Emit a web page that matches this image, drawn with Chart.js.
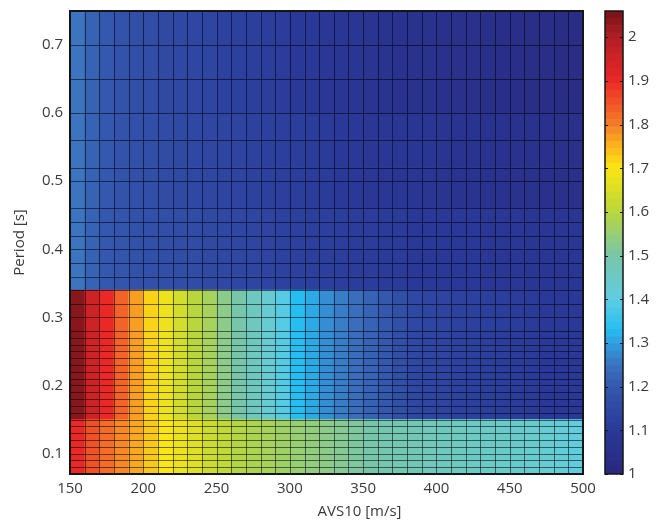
<!DOCTYPE html>
<html>
<head>
<meta charset="utf-8">
<title>Amplification map</title>
<script src="https://cdn.jsdelivr.net/npm/chart.js@4.4.1/dist/chart.umd.min.js"></script>
<style>
  html, body { margin: 0; padding: 0; background: #fff; }
  #wrap { position: relative; width: 660px; height: 522px; }
  #main { position: absolute; left: 0; top: 0; }
  #bar { position: absolute; left: 595px; top: 0; }
</style>
</head>
<body>
<div id="wrap">
  <canvas id="main" width="600" height="522" style="width:600px;height:522px"></canvas>
  <canvas id="bar" width="65" height="522" style="width:65px;height:522px"></canvas>
</div>
<script>
// AVS10 columns (left edge of each cell, m/s)
const avsCols = [150,160,170,180,190,200,210,220,230,240,250,260,270,280,290,300,310,320,330,340,350,360,370,380,390,400,410,420,430,440,450,460,470,480,490];

// period bands: row edges and the value read for each column
const lowEdges = [0.07,0.08,0.09,0.10,0.11,0.12,0.13,0.14,0.15];
const lowVals = [1.90,1.85,1.82,1.79,1.76,1.73,1.70,1.68,1.66,1.63,1.61,1.59,1.58,1.57,1.56,1.55,1.54,1.53,1.52,1.51,1.50,1.49,1.485,1.48,1.47,1.465,1.46,1.455,1.45,1.445,1.44,1.435,1.43,1.42,1.41];

const midEdges = [0.15,0.16,0.17,0.18,0.19,0.20,0.21,0.22,0.23,0.24,0.25,0.26,0.27,0.28,0.30,0.32,0.34];
const midVals = [2.04,1.95,1.90,1.83,1.77,1.72,1.68,1.64,1.60,1.57,1.53,1.50,1.465,1.43,1.39,1.33,1.31,1.28,1.26,1.24,1.22,1.20,1.17,1.15,1.14,1.135,1.13,1.125,1.12,1.115,1.11,1.105,1.10,1.10,1.095];

const topLowEdges = [0.34,0.36,0.38,0.40,0.42,0.44,0.46];
const topLowVals = [1.25,1.22,1.20,1.19,1.18,1.175,1.17,1.165,1.16,1.155,1.15,1.145,1.14,1.135,1.13,1.125,1.12,1.12,1.115,1.11,1.11,1.105,1.105,1.10,1.10,1.10,1.095,1.095,1.09,1.09,1.09,1.085,1.085,1.08,1.08];

const topMidEdges = [0.46,0.50,0.52,0.56,0.60];
const topMidVals = [1.25,1.22,1.20,1.185,1.175,1.17,1.16,1.155,1.15,1.145,1.14,1.135,1.13,1.125,1.12,1.115,1.11,1.105,1.10,1.095,1.09,1.09,1.085,1.08,1.08,1.075,1.07,1.07,1.065,1.065,1.06,1.06,1.055,1.05,1.05];

const topHighEdges = [0.60,0.65,0.70,0.75];
const topHighVals = [1.25,1.22,1.20,1.185,1.17,1.165,1.155,1.15,1.145,1.14,1.13,1.125,1.12,1.115,1.11,1.10,1.095,1.09,1.085,1.08,1.075,1.07,1.065,1.06,1.06,1.055,1.05,1.05,1.045,1.04,1.04,1.035,1.035,1.03,1.03];

// tick labels
const xTicks = [150,200,250,300,350,400,450,500];
const yTicks = [0.1,0.2,0.3,0.4,0.5,0.6,0.7];
const cbTicks = [1,1.1,1.2,1.3,1.4,1.5,1.6,1.7,1.8,1.9,2];

const colWidth = avsCols[1] - avsCols[0];
const xMin = avsCols[0];
const xMax = avsCols[avsCols.length - 1] + colWidth;
const cbLo = 1.0;
const cbHi = 2.06;

const textColor = '#3a3a3a';
const tickFont = { family: 'Open Sans', size: 15 };

// jet-like colormap, tuned to the faded colours of the printed figure
const cmapStops = [
  [1.00, [40, 40, 125]],
  [1.10, [42, 57, 152]],
  [1.20, [52, 88, 174]],
  [1.25, [60, 116, 192]],
  [1.30, [48, 160, 225]],
  [1.33, [38, 190, 240]],
  [1.40, [95, 205, 225]],
  [1.50, [120, 198, 170]],
  [1.60, [185, 215, 60]],
  [1.70, [250, 230, 20]],
  [1.75, [250, 180, 30]],
  [1.80, [245, 125, 40]],
  [1.90, [235, 40, 40]],
  [2.00, [175, 30, 35]],
  [2.06, [115, 20, 25]]
];

function jetColor(v) {
  if (v <= cmapStops[0][0]) return 'rgb(' + cmapStops[0][1].join(',') + ')';
  for (let i = 1; i < cmapStops.length; i++) {
    const [v1, c1] = cmapStops[i];
    const [v0, c0] = cmapStops[i - 1];
    if (v <= v1) {
      const t = (v - v0) / (v1 - v0);
      const c = c0.map((a, k) => Math.round(a + (c1[k] - a) * t));
      return 'rgb(' + c.join(',') + ')';
    }
  }
  return 'rgb(' + cmapStops[cmapStops.length - 1][1].join(',') + ')';
}

// one floating-bar dataset per period row
const bands = [
  [lowEdges, lowVals],
  [midEdges, midVals],
  [topLowEdges, topLowVals],
  [topMidEdges, topMidVals],
  [topHighEdges, topHighVals]
];
const rowEdges = [];
const datasets = [];
bands.forEach(([edges, vals]) => {
  edges.forEach(e => { if (!rowEdges.includes(e)) rowEdges.push(e); });
  for (let r = 0; r < edges.length - 1; r++) {
    datasets.push({
      data: avsCols.map(a => ({ x: a + colWidth / 2, y: [edges[r], edges[r + 1]] })),
      backgroundColor: vals.map(jetColor),
      borderWidth: 0,
      grouped: false,
      barPercentage: 1,
      categoryPercentage: 1
    });
  }
});

// no label overhang padding, so the plot box lands where the layout says
function noOverhang(s) {
  s.paddingTop = 0;
  s.paddingBottom = 0;
  s.paddingLeft = 0;
  s.paddingRight = 0;
}

// dark cell outlines plus the axes box, like pcolor's faceted shading
const cellLines = {
  id: 'cellLines',
  afterDatasetsDraw(chart) {
    const { ctx, chartArea: a, scales: { x, y } } = chart;
    ctx.save();
    ctx.strokeStyle = 'rgba(0,0,0,0.55)';
    ctx.lineWidth = 1;
    ctx.beginPath();
    avsCols.concat([xMax]).forEach(v => {
      const px = Math.round(x.getPixelForValue(v)) + 0.5;
      ctx.moveTo(px, a.top);
      ctx.lineTo(px, a.bottom);
    });
    rowEdges.forEach(p => {
      const py = Math.round(y.getPixelForValue(p)) + 0.5;
      ctx.moveTo(a.left, py);
      ctx.lineTo(a.right, py);
    });
    ctx.stroke();
    ctx.strokeStyle = '#151515';
    ctx.lineWidth = 2;
    ctx.strokeRect(a.left, a.top, a.right - a.left, a.bottom - a.top);

    // x axis title sits right of centre in the original figure
    ctx.fillStyle = textColor;
    ctx.font = '15px "Open Sans"';
    ctx.textAlign = 'center';
    ctx.textBaseline = 'middle';
    ctx.fillText('AVS10 [m/s]', (a.left + a.right) / 2 + 33, 512);
    ctx.restore();
  }
};

// hidden grid and no tick marks: Chart.js still reserves tickLength otherwise
const noGrid = { display: false, drawTicks: false, tickLength: 0 };

new Chart(document.getElementById('main'), {
  type: 'bar',
  data: { datasets: datasets },
  options: {
    responsive: false,
    animation: false,
    layout: { padding: { left: 0, right: 17, top: 11, bottom: 0 } },
    plugins: { legend: { display: false }, tooltip: { enabled: false } },
    scales: {
      x: {
        type: 'linear',
        min: xMin,
        max: xMax,
        offset: false,
        grid: noGrid,
        border: { display: false },
        afterBuildTicks: s => { s.ticks = xTicks.map(v => ({ value: v })); },
        ticks: { padding: 6, color: textColor, font: tickFont, maxRotation: 0, autoSkip: false,
                 callback: v => String(v) },
        afterFit: s => { s.height = 48; noOverhang(s); }
      },
      y: {
        type: 'linear',
        min: lowEdges[0],
        max: topHighEdges[topHighEdges.length - 1],
        grid: noGrid,
        border: { display: false },
        afterBuildTicks: s => { s.ticks = yTicks.map(v => ({ value: v })); },
        ticks: { padding: 7, color: textColor, font: tickFont, callback: v => v.toFixed(1) },
        title: { display: true, text: 'Period [s]', color: textColor, font: tickFont,
                 padding: { top: 11, bottom: 0 } },
        afterFit: s => { s.width = 70; noOverhang(s); }
      }
    }
  },
  plugins: [cellLines]
});

// Colorbar: thin floating segments from cbLo to cbHi
const cbSteps = 64;
const cbSets = [];
for (let i = 0; i < cbSteps; i++) {
  const lo = cbLo + (cbHi - cbLo) * i / cbSteps;
  const hi = cbLo + (cbHi - cbLo) * (i + 1) / cbSteps;
  cbSets.push({
    data: [[lo, hi]],
    backgroundColor: jetColor((lo + hi) / 2),
    borderWidth: 0,
    grouped: false,
    barPercentage: 1,
    categoryPercentage: 1
  });
}

const cbFrame = {
  id: 'cbFrame',
  afterDatasetsDraw(chart) {
    const { ctx, chartArea: a, scales: { y } } = chart;
    ctx.save();
    ctx.strokeStyle = '#151515';
    ctx.lineWidth = 1;
    ctx.beginPath();
    cbTicks.forEach(v => {
      const py = Math.round(y.getPixelForValue(v)) + 0.5;
      ctx.moveTo(a.left, py); ctx.lineTo(a.left + 3, py);
      ctx.moveTo(a.right - 3, py); ctx.lineTo(a.right, py);
    });
    ctx.stroke();
    ctx.lineWidth = 1.5;
    ctx.strokeRect(a.left, a.top, a.right - a.left, a.bottom - a.top);
    ctx.restore();
  }
};

new Chart(document.getElementById('bar'), {
  type: 'bar',
  data: { labels: [''], datasets: cbSets },
  options: {
    responsive: false,
    animation: false,
    layout: { padding: { left: 10, right: 0, top: 11, bottom: 48 } },
    plugins: { legend: { display: false }, tooltip: { enabled: false } },
    scales: {
      x: { display: false },
      y: {
        position: 'right',
        min: cbLo,
        max: cbHi,
        grid: noGrid,
        border: { display: false },
        afterBuildTicks: s => { s.ticks = cbTicks.map(v => ({ value: v })); },
        ticks: { padding: 5, color: textColor, font: tickFont,
                 callback: v => String(Math.round(v * 10) / 10) },
        afterFit: s => { s.width = 37; noOverhang(s); }
      }
    }
  },
  plugins: [cbFrame]
});
</script>
</body>
</html>
